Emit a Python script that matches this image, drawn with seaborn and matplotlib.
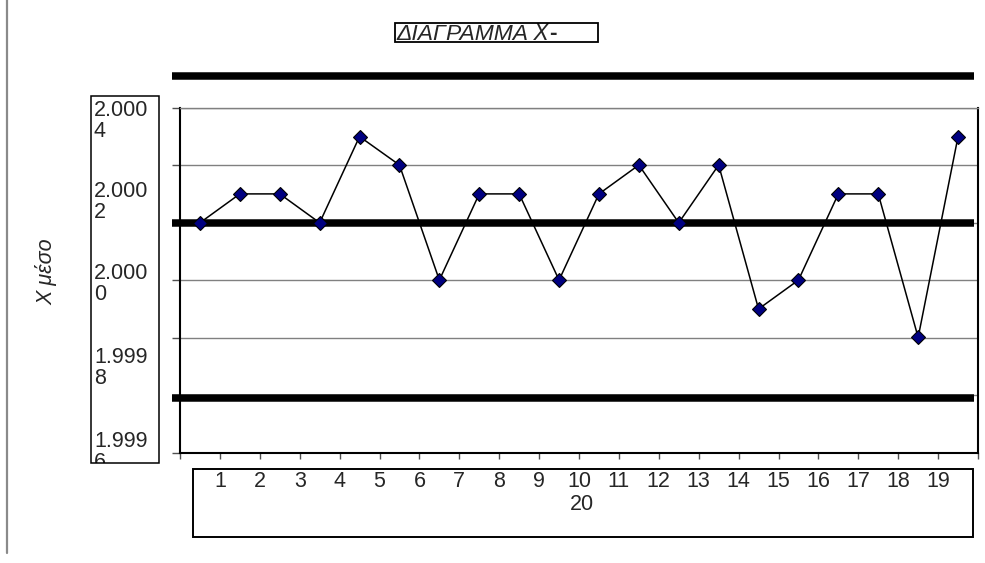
import matplotlib
matplotlib.use("Agg")
import matplotlib.pyplot as plt
import seaborn as sns
import numpy as np
import pandas as pd
from matplotlib.patches import Rectangle
from matplotlib.lines import Line2D
from matplotlib.ticker import FixedLocator, NullFormatter

# Subgroup means of the X-bar control chart
samples = list(range(1, 21))
xbar = [2.000133, 2.000200, 2.000200, 2.000133, 2.000333,
        2.000267, 2.000000, 2.000200, 2.000200, 2.000000,
        2.000200, 2.000267, 2.000133, 2.000267, 1.999933,
        2.000000, 2.000200, 2.000200, 1.999867, 2.000333]

# Control limits
ucl = 2.000474
cl = 2.000132
lcl = 1.999727

# Value axis
y_min, y_max = 1.9996, 2.0004
ytick_text = ["2.000\n4", "2.000\n2", "2.000\n0", "1.999\n8", "1.999\n6"]
ytick_at = [2.00037, 2.000182, 1.99999, 1.999795, 1.999602]

# Category axis
xtick_text = [str(s) for s in samples[:-1]]
last_label = str(samples[-1])

title_main = "ΔΙΑΓΡΑΜΜΑ X"
title_bar = "-"
ylabel_text = "X μέσο"

sns.set_theme(style="white")
plt.rcParams["font.family"] = ["Liberation Sans", "DejaVu Sans"]

W, H = 985, 563
fig = plt.figure(figsize=(W / 100, H / 100), dpi=100)


def fx(px):
    return px / W


def fy(py):
    return 1 - py / H


ax = fig.add_axes([fx(180), fy(452.5), fx(978) - fx(180), fy(107.7) - fy(452.5)])
ax.set_facecolor("white")

df = pd.DataFrame({"pos": np.arange(len(samples)), "xbar": xbar})
sns.lineplot(data=df, x="pos", y="xbar", ax=ax, color="black", linewidth=1.1,
             marker="D", markersize=7.5, markerfacecolor="#000080",
             markeredgecolor="black", markeredgewidth=0.8, zorder=5)

ax.set_xlim(-0.5, len(samples) - 0.5)
ax.set_ylim(y_min, y_max)
ax.set_xlabel("")
ax.set_ylabel("")

# Horizontal gridlines with outward tick marks
grid_levels = np.linspace(y_min, y_max, 7)
ax.yaxis.set_major_locator(FixedLocator(grid_levels))
ax.yaxis.set_major_formatter(NullFormatter())
ax.grid(axis="y", which="major", color="#808080", linewidth=1.0)
ax.grid(axis="x", visible=False)
ax.tick_params(axis="y", which="major", left=True, length=5.8, width=1.0,
               color="#505050", direction="out")

# Wrapped value labels
ax.set_yticks(ytick_at, labels=ytick_text, minor=True)
ax.tick_params(axis="y", which="minor", left=True, length=0, pad=62, labelsize=15.5)

# Category ticks at the boundaries, numbered labels
xt = np.arange(-0.5, len(samples), 1.0)
ax.set_xticks(xt, labels=[""] + xtick_text + [""])
ax.tick_params(axis="x", which="major", bottom=True, length=4.5, width=1.0,
               color="#505050", direction="out", pad=9, labelsize=15.5)

for side in ("left", "bottom", "right"):
    ax.spines[side].set_color("black")
    ax.spines[side].set_linewidth(1.5)
ax.spines["top"].set_color("#808080")
ax.spines["top"].set_linewidth(1.0)

# Control limit lines
for level in (ucl, cl, lcl):
    ax.axhline(level, xmin=-0.010, xmax=0.995, color="black", linewidth=5.4,
               solid_capstyle="butt", clip_on=False, zorder=4)

# Label frames
ybox = Rectangle((fx(91), fy(462.7)), fx(159) - fx(91), fy(96) - fy(462.7),
                 transform=fig.transFigure, fill=False, edgecolor="black",
                 linewidth=1.1, zorder=6)
fig.patches.append(ybox)
for lab in ax.get_yticklabels(minor=True):
    lab.set_ha("left")
    lab.set_va("center")
    lab.set_linespacing(1.0)
    lab.set_clip_path(ybox)
    lab.set_clip_on(True)

xbox = Rectangle((fx(192.7), fy(536.7)), fx(972.7) - fx(192.7), fy(469) - fy(536.7),
                 transform=fig.transFigure, fill=False, edgecolor="black",
                 linewidth=1.4, zorder=6)
fig.patches.append(xbox)
fig.text(fx(582), fy(505), last_label, ha="center", va="center", fontsize=15.5)

# Title in its frame
tbox = Rectangle((fx(395), fy(42)), fx(598) - fx(395), fy(23) - fy(42),
                 transform=fig.transFigure, fill=False, edgecolor="black",
                 linewidth=1.3, zorder=6)
fig.patches.append(tbox)
t_main = fig.text(fx(396), fy(33.5), title_main, ha="left", va="center",
                  fontsize=16.5, style="italic")
fig.canvas.draw()
bb = t_main.get_window_extent()
fig.text(bb.x1 / W + fx(0.5), fy(33.5), title_bar, ha="left", va="center",
         fontsize=16.5, fontweight="bold")

fig.text(fx(46), fy(272), ylabel_text, rotation=90, ha="center", va="center",
         fontsize=15.5, style="italic")

# Left page border
fig.add_artist(Line2D([fx(7), fx(7)], [fy(0), fy(553)], transform=fig.transFigure,
                      color="#8a8a8a", linewidth=1.6))

fig.savefig("out.png", dpi=100, facecolor="white")
